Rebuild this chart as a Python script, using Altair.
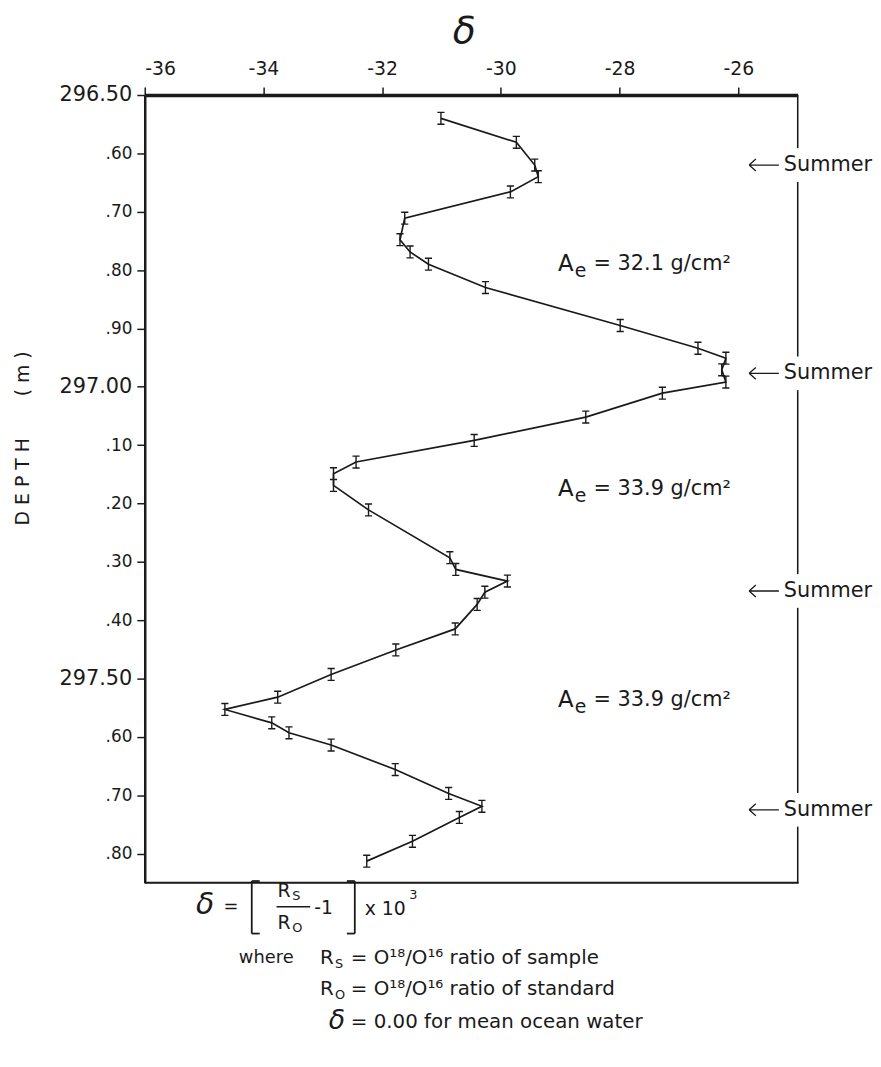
import altair as alt
import pandas as pd

# ---- data ----
depth = [296.540, 296.581, 296.620, 296.640, 296.666, 296.711, 296.748, 296.769, 296.790, 296.830,
         296.895, 296.934, 296.951, 296.971, 296.992, 297.011, 297.052, 297.092, 297.129, 297.149,
         297.169, 297.211, 297.293, 297.313, 297.333, 297.352, 297.373, 297.415, 297.451, 297.493,
         297.532, 297.553, 297.576, 297.593, 297.614, 297.656, 297.697, 297.719, 297.738, 297.779, 297.813]
delta = [-31.01, -29.74, -29.43, -29.37, -29.84, -31.62, -31.70, -31.53, -31.22, -30.26,
         -27.99, -26.68, -26.21, -26.28, -26.21, -27.28, -28.57, -30.45, -32.44, -32.82,
         -32.82, -32.23, -30.86, -30.76, -29.89, -30.27, -30.40, -30.77, -31.77, -32.86,
         -33.76, -34.65, -33.86, -33.57, -32.86, -31.78, -30.88, -30.32, -30.70, -31.49, -32.26]

x_ticks = [-36, -34, -32, -30, -28, -26]
y_ticks = [296.5, 296.6, 296.7, 296.8, 296.9, 297.0, 297.1, 297.2, 297.3, 297.4,
           297.5, 297.6, 297.7, 297.8]

summer_depths = [296.62, 296.977, 297.35, 297.725]
summer_labels = ["Summer", "Summer", "Summer", "Summer"]
ae_depths = [296.790, 297.175, 297.537]
ae_values = ["= 32.1 g/cm²", "= 33.9 g/cm²", "= 33.9 g/cm²"]

# ---- layout ----
W, H = 659, 795
OX, OY = 146, 90.7          # plot origin in page coords (for annotation placement)
FONT = "DejaVu Sans"
INK = "#1a1a1a"


def px(x):
    return x - OX


def py(y):
    return y - OY


df = pd.DataFrame({"idx": list(range(len(depth))), "depth": depth, "delta": delta})
summer = pd.DataFrame({"depth": summer_depths, "label": summer_labels})
ae = pd.DataFrame({"depth": ae_depths, "val": ae_values})
one = pd.DataFrame({"k": [0]})

major_test = "abs(datum.value*2 - round(datum.value*2)) < 0.001"

xaxis = alt.Axis(orient="top", values=x_ticks, labelExpr="'' + datum.value",
                 grid=False, domainColor=INK, domainWidth=3.5, tickColor=INK,
                 tickWidth=1.5, tickSize=8, labelFontSize=19, labelColor=INK,
                 labelPadding=9, labelFont=FONT,
                 title="δ", titleFontSize=38, titleFontStyle="italic",
                 titleFontWeight="normal", titleColor=INK, titleFont=FONT,
                 titleX=322, titleY=-64, titleBaseline="middle", titleAlign="center")
yaxis = alt.Axis(orient="left", values=y_ticks,
                 labelExpr=major_test + " ? format(datum.value, '.2f') : '.' + substring(format(datum.value, '.2f'), 4)",
                 labelFontSize={"condition": {"test": major_test, "value": 21}, "value": 17},
                 grid=False, domainColor=INK, domainWidth=2.5, tickColor=INK,
                 tickWidth=1.5, tickSize=8, labelColor=INK, labelPadding=5, labelFont=FONT,
                 title="D\u00a0E\u00a0P\u00a0T\u00a0H\u00a0\u00a0\u00a0\u00a0\u00a0\u00a0\u00a0(\u00a0m\u00a0)",
                 titleFontSize=19, titleFontWeight="normal", titleColor=INK, titleFont=FONT,
                 titleAngle=270, titleX=-123, titleY=346, titleAlign="center",
                 titleBaseline="middle")
xscale = alt.Scale(domain=[-36, -25], nice=False, zero=False)
yscale = alt.Scale(domain=[296.5, 297.85], reverse=True, nice=False, zero=False)

xenc = alt.X("delta:Q", scale=xscale, axis=xaxis)
yenc = alt.Y("depth:Q", scale=yscale, axis=yaxis)

base = alt.Chart(df)

line = base.mark_line(color=INK, strokeWidth=1.7).encode(x=xenc, y=yenc, order="idx:Q")

I_SHAPE = "M-0.6,-1L0.6,-1M0,-1L0,1M-0.6,1L0.6,1"
markers = base.mark_point(shape=I_SHAPE, size=144, filled=False, stroke=INK,
                          strokeWidth=1.4, opacity=1).encode(x=xenc, y=yenc)

# frame: bottom and (thin) right edge
bottom = alt.Chart(one).mark_rule(color=INK, strokeWidth=2.2).encode(
    x=alt.value(0), x2=alt.value(W + 1), y=alt.value(H))
right = alt.Chart(one).mark_rule(color=INK, strokeWidth=1.5).encode(
    x=alt.value(W), y=alt.value(0), y2=alt.value(H))

mask = alt.Chart(summer).mark_point(shape="M-0.35,-1L0.35,-1L0.35,1L-0.35,1Z", size=1156,
                                    filled=True, fill="white", strokeWidth=0, opacity=1).encode(
    x=alt.value(W), y=yenc)
ARROW = "M-1,0L1,0M-1,0L-0.55,-0.4M-1,0L-0.55,0.4"
arrows = alt.Chart(summer).mark_point(shape=ARROW, size=900, filled=False, stroke=INK,
                                      strokeWidth=1.3, opacity=1).encode(
    x=alt.value(px(771)), y=yenc)
summer_txt = alt.Chart(summer).mark_text(align="left", baseline="middle", fontSize=21,
                                         font=FONT, color=INK).encode(
    x=alt.value(px(791)), y=yenc, text="label:N")

ae_A = alt.Chart(ae).mark_text(align="left", baseline="middle", fontSize=23, font=FONT,
                               color=INK, text="A").encode(x=alt.value(px(563)), y=yenc)
ae_e = alt.Chart(ae).mark_text(align="left", baseline="middle", fontSize=19, font=FONT,
                               color=INK, text="e", dy=7).encode(x=alt.value(px(580)), y=yenc)
ae_v = alt.Chart(ae).mark_text(align="left", baseline="middle", fontSize=21, font=FONT,
                               color=INK).encode(x=alt.value(px(599)), y=yenc, text="val:N")


def txt(s, x, y, size=20, align="left", style="normal"):
    return alt.Chart(one).mark_text(text=s, align=align, baseline="middle", fontSize=size,
                                    font=FONT, color=INK, fontStyle=style).encode(
        x=alt.value(px(x)), y=alt.value(py(y)))


def seg(x1, y1, x2, y2, w=1.8):
    return alt.Chart(one).mark_rule(color=INK, strokeWidth=w).encode(
        x=alt.value(px(x1)), y=alt.value(py(y1)), x2=alt.value(px(x2)), y2=alt.value(py(y2)))


formula = [
    txt("δ", 207, 908, size=30, align="center", style="italic"),
    txt("=", 233, 910, size=18, align="center"),
    seg(254, 884, 254, 937), seg(254, 884, 262, 884), seg(254, 937, 262, 937),
    txt("R", 280, 894, size=19), txt("S", 295, 899, size=13),
    seg(279, 910, 313, 910, w=1.5),
    txt("R", 280, 926, size=19), txt("O", 295, 931, size=13),
    txt("-1", 317, 911, size=19),
    seg(358, 884, 358, 937), seg(350, 884, 358, 884), seg(350, 937, 358, 937),
    txt("x 10", 368, 912, size=19), txt("3", 413, 898, size=13),
    txt("where", 241, 962, size=18),
    txt("R", 323, 962, size=20), txt("S", 338, 968, size=13),
    txt("= O¹⁸/O¹⁶ ratio of sample", 354, 962, size=20),
    txt("R", 323, 993, size=20), txt("O", 338, 999, size=13),
    txt("= O¹⁸/O¹⁶ ratio of standard", 354, 993, size=20),
    txt("δ", 340, 1025, size=27, align="center", style="italic"),
    txt("= 0.00 for mean ocean water", 354, 1026, size=20),
]

chart = alt.layer(line, markers, bottom, right, mask, arrows, summer_txt, ae_A, ae_e, ae_v,
                  *formula).properties(
    width=W, height=H,
    autosize=alt.AutoSizeParams(type="none"),
    padding={"left": OX - 8, "top": 83, "right": 76, "bottom": 165},
    background="white",
).configure_view(stroke=None).configure(font=FONT)

chart.save("out.html", embed_options={"renderer": "svg", "actions": False})
